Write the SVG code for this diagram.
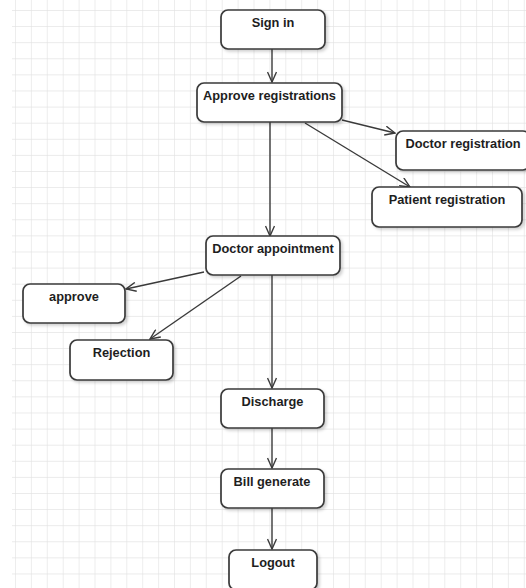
<svg xmlns="http://www.w3.org/2000/svg" width="526" height="588" viewBox="0 0 526 588">
<style>
.box{fill:#fff;stroke:#3a3a3a;stroke-width:1.7;filter:url(#sh)}
.lbl{font-family:"Liberation Sans",Arial,sans-serif;font-weight:bold;font-size:12.8px;fill:#1e1e1e;text-anchor:middle}
.edge{fill:none;stroke:#3a3a3a;stroke-width:1.4;marker-end:url(#arr)}
</style>
<defs>
<pattern id="grid" patternUnits="userSpaceOnUse" x="15" y="10" width="15.9" height="16.1">
<path d="M0 0V16.1M0 0H15.9" fill="none" stroke="#e3e3e3" stroke-width="1.3"/>
</pattern>
<filter id="sh" x="-10%" y="-10%" width="130%" height="140%">
<feDropShadow dx="2" dy="2" stdDeviation="1.5" flood-color="#000" flood-opacity="0.18"/>
</filter>
<marker id="arr" viewBox="0 0 12 10" refX="11" refY="5" markerWidth="12" markerHeight="10" markerUnits="userSpaceOnUse" orient="auto">
<path d="M1 0.5L11 5L1 9.5" fill="none" stroke="#3a3a3a" stroke-width="1.4"/>
</marker>
</defs>
<rect width="526" height="588" fill="#fff"/>
<rect x="12" y="0" width="514" height="588" fill="url(#grid)"/>
<g id="connectors">
<line class="edge" x1="272" y1="49" x2="272" y2="82"/>
<line class="edge" x1="342" y1="120" x2="395" y2="133"/>
<line class="edge" x1="305" y1="123" x2="410" y2="187"/>
<line class="edge" x1="270" y1="122" x2="270" y2="236"/>
<line class="edge" x1="204" y1="272" x2="126" y2="289"/>
<line class="edge" x1="241" y1="276" x2="150" y2="339"/>
<line class="edge" x1="272" y1="275" x2="272" y2="388"/>
<line class="edge" x1="272" y1="428" x2="272" y2="468"/>
<line class="edge" x1="272" y1="508" x2="272" y2="549"/>
</g>
<g id="signin"><rect class="box" x="221" y="10" width="104" height="39" rx="7"/><text class="lbl" x="273" y="27">Sign in</text></g>
<g id="approveReg"><rect class="box" x="197" y="83" width="145" height="39" rx="7"/><text class="lbl" x="269.5" y="100">Approve registrations</text></g>
<g id="doctorReg"><rect class="box" x="396" y="131" width="134" height="39" rx="7"/><text class="lbl" x="463" y="148">Doctor registration</text></g>
<g id="patientReg"><rect class="box" x="372" y="187" width="150" height="40" rx="7"/><text class="lbl" x="447" y="204">Patient registration</text></g>
<g id="doctorAppt"><rect class="box" x="206" y="236" width="134" height="39" rx="7"/><text class="lbl" x="273" y="253">Doctor appointment</text></g>
<g id="approve"><rect class="box" x="23" y="284" width="102" height="39" rx="7"/><text class="lbl" x="74" y="300.5">approve</text></g>
<g id="rejection"><rect class="box" x="70" y="340" width="103" height="40" rx="7"/><text class="lbl" x="121.5" y="357">Rejection</text></g>
<g id="discharge"><rect class="box" x="221" y="389" width="103" height="39" rx="7"/><text class="lbl" x="272.5" y="406">Discharge</text></g>
<g id="bill"><rect class="box" x="221" y="469" width="103" height="39" rx="7"/><text class="lbl" x="272" y="486">Bill generate</text></g>
<g id="logout"><rect class="box" x="229" y="550" width="88" height="40" rx="7"/><text class="lbl" x="273" y="567">Logout</text></g>
</svg>
